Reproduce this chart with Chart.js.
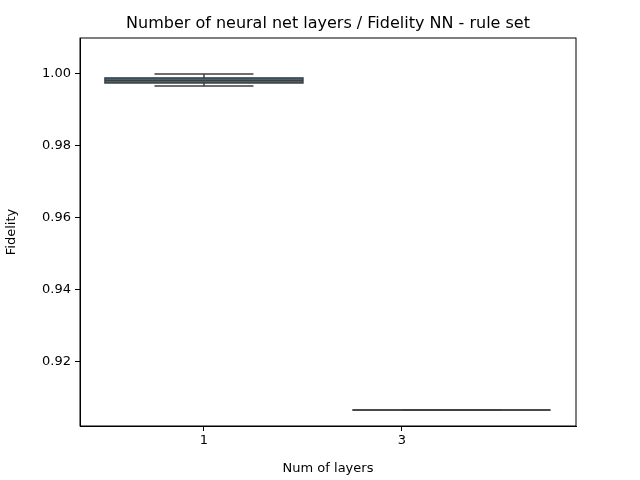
<!DOCTYPE html>
<html><head><script src="https://cdn.jsdelivr.net/npm/chart.js@4"></script>
<style>body{margin:0}#w{width:640px;height:480px}</style></head>
<body><div id="w"><canvas id="c"></canvas></div>
<script>
const categories = ["1", "3"];
const catPos = [0, 1];
const boxCenter = [0, 1.25];
const whiskerLow = [0.99667, 0.90667];
const q1 = [0.99750, 0.90667];
const median = [0.99820, 0.90667];
const q3 = [0.99890, 0.90667];
const whiskerHigh = [1.00000, 0.90667];
const yTicks = [0.92, 0.94, 0.96, 0.98, 1.00];
const titleText = 'Number of neural net layers / Fidelity NN - rule set';

const boxPlugin = {
  id: 'box',
  afterDatasetsDraw(chart) {
    const ctx = chart.ctx, x = chart.scales.x, y = chart.scales.y;
    ctx.save();
    ctx.strokeStyle = '#3f3f3f'; ctx.lineWidth = 1.5;
    for (let i = 0; i < categories.length; i++) {
      const c = boxCenter[i];
      const xl = x.getPixelForValue(c - 0.5), xr = x.getPixelForValue(c + 0.5);
      const wl = x.getPixelForValue(c - 0.25), wr = x.getPixelForValue(c + 0.25);
      const xc = x.getPixelForValue(c);
      const yq1 = y.getPixelForValue(q1[i]), yq3 = y.getPixelForValue(q3[i]);
      ctx.beginPath();
      ctx.moveTo(xc, y.getPixelForValue(whiskerLow[i])); ctx.lineTo(xc, yq1);
      ctx.moveTo(xc, yq3); ctx.lineTo(xc, y.getPixelForValue(whiskerHigh[i]));
      ctx.moveTo(wl, y.getPixelForValue(whiskerLow[i])); ctx.lineTo(wr, y.getPixelForValue(whiskerLow[i]));
      ctx.moveTo(wl, y.getPixelForValue(whiskerHigh[i])); ctx.lineTo(wr, y.getPixelForValue(whiskerHigh[i]));
      ctx.stroke();
      ctx.fillStyle = '#3274a1';
      ctx.fillRect(xl, yq3, xr - xl, yq1 - yq3);
      ctx.strokeRect(xl, yq3, xr - xl, yq1 - yq3);
      ctx.beginPath();
      ctx.moveTo(xl, y.getPixelForValue(median[i])); ctx.lineTo(xr, y.getPixelForValue(median[i]));
      ctx.stroke();
    }
    ctx.restore();
  }
};

new Chart(document.getElementById('c'), {
  type: 'scatter',
  data: { datasets: [{ data: catPos.map((p, i) => ({x: p, y: median[i]})), pointRadius: 0 }] },
  options: {
    responsive: true, maintainAspectRatio: false, animation: false,
    layout: { padding: { right: 64, top: 38, left: 0, bottom: 0 } },
    plugins: { legend: { display: false }, tooltip: { enabled: false }, title: { display: false } },
    scales: {
      x: { type: 'linear', min: -0.626, max: 1.879,
        afterBuildTicks(s) { s.ticks = catPos.map(v => ({value: v})); },
        afterFit(s) { s.height = 54; },
        ticks: { callback: (v) => { const i = catPos.indexOf(v); return i >= 0 ? categories[i] : ''; },
          color: '#000', font: { family: 'DejaVu Sans', size: 13 }, padding: 2 },
        grid: { drawOnChartArea: false, drawTicks: true, tickLength: 5, color: '#000' },
        border: { color: '#000' },
        title: { display: true, text: 'Num of layers', color: '#000', font: { family: 'DejaVu Sans', size: 13 }, padding: { top: 2 } }
      },
      y: { min: 0.9022, max: 1.0100,
        afterBuildTicks(s) { s.ticks = yTicks.map(v => ({value: v})); },
        afterFit(s) { s.width = 80; },
        ticks: { callback: v => v.toFixed(2), color: '#000', font: { family: 'DejaVu Sans', size: 13 }, padding: 4 },
        grid: { drawOnChartArea: false, tickLength: 5, color: '#000' },
        border: { color: '#000' },
        title: { display: true, text: 'Fidelity', color: '#000', font: { family: 'DejaVu Sans', size: 13 }, padding: { bottom: 2 } }
      }
    }
  },
  plugins: [boxPlugin, {
    id: 'frame',
    afterDraw(chart) {
      const a = chart.chartArea, ctx = chart.ctx;
      ctx.save(); ctx.strokeStyle = '#000'; ctx.lineWidth = 1;
      ctx.strokeRect(a.left, a.top, a.right - a.left, a.bottom - a.top);
      ctx.fillStyle = '#000'; ctx.font = '16px "DejaVu Sans"';
      ctx.textAlign = 'center'; ctx.textBaseline = 'bottom';
      ctx.fillText(titleText, (a.left + a.right) / 2, a.top - 6);
      ctx.restore();
    }
  }]
});
</script></body></html>
